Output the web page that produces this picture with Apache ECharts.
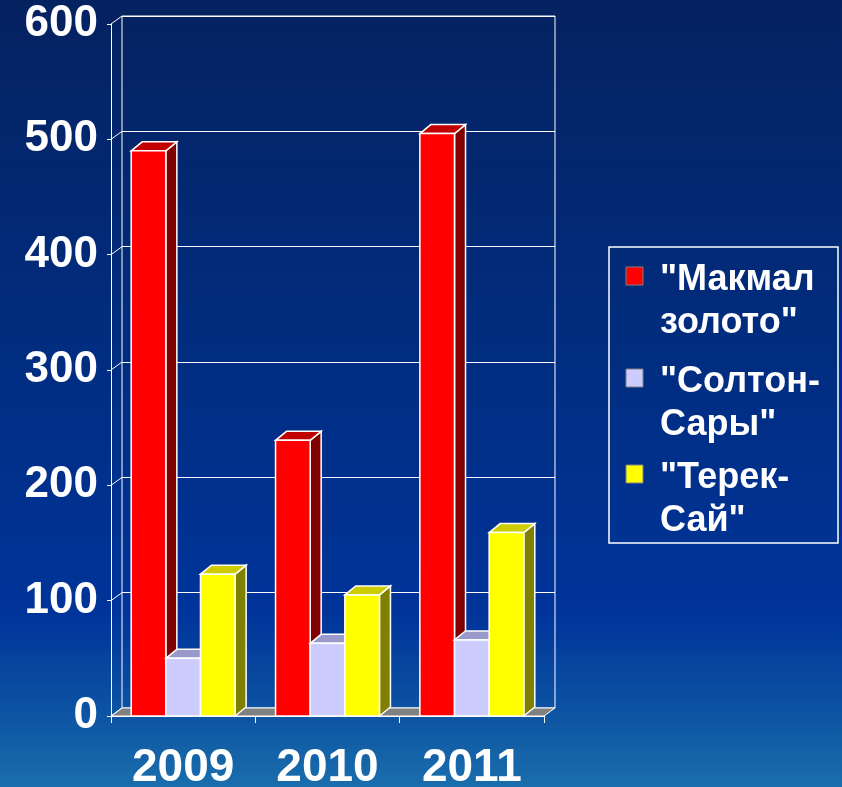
<!DOCTYPE html>
<html>
<head>
<meta charset="utf-8">
<script src="https://cdn.jsdelivr.net/npm/echarts@6/dist/echarts.min.js"></script>
<style>
  * { margin: 0; padding: 0; }
  #main { width: 842px; height: 787px; }
</style>
</head>
<body>
<div id="main"></div>
<script>
// данные
var years = ['2009', '2010', '2011'];
var makmal = [490, 239, 505];
var solton = [50, 63, 66];
var terek = [123, 105, 159];
var seriesNames = ['"Макмал\nзолото"', '"Солтон-\nСары"', '"Терек-\nСай"'];
var yTicks = [0, 100, 200, 300, 400, 500, 600];

// цвета граней: перед, верх, бок
var faces = [
  ['#ff0000', '#c00000', '#800000'],
  ['#ccccff', '#9999cc', '#9999cc'],
  ['#ffff00', '#cccc00', '#808000']
];
var DX = 11, DY = -9;

function bar3d(params, api) {
  var band = api.size([1, 0])[0];
  var w = band * 0.24;
  var base = api.coord([api.value(0), 0]);
  var top = api.coord([api.value(0), api.value(1)]);
  var x0 = base[0] + (params.seriesIndex - 1) * w - w / 2;
  var x1 = x0 + w, y0 = top[1], y1 = base[1];
  var c = faces[params.seriesIndex];
  var line = { stroke: '#ffffff', lineWidth: 1.5 };
  return {
    type: 'group',
    children: [
      { type: 'polygon', shape: { points: [[x1, y0], [x1 + DX, y0 + DY], [x1 + DX, y1 + DY], [x1, y1]] },
        style: Object.assign({ fill: c[2] }, line) },
      { type: 'polygon', shape: { points: [[x0, y0], [x0 + DX, y0 + DY], [x1 + DX, y0 + DY], [x1, y0]] },
        style: Object.assign({ fill: c[1] }, line) },
      { type: 'rect', shape: { x: x0, y: y0, width: w, height: y1 - y0 },
        style: Object.assign({ fill: c[0] }, line) }
    ]
  };
}

// пол и косые засечки от передней оси к задней стенке
function floorAndTicks(params, api) {
  var cs = params.coordSys;
  var kids = [];
  var y0 = api.coord([0, 0])[1];
  kids.push({ type: 'polygon',
    shape: { points: [[cs.x, y0], [cs.x + DX, y0 + DY + 1], [cs.x + cs.width + DX, y0 + DY + 1], [cs.x + cs.width, y0]] },
    style: { fill: '#808080', stroke: '#ffffff', lineWidth: 1 } });
  yTicks.forEach(function (v) {
    var y = api.coord([0, v])[1];
    kids.push({ type: 'line', shape: { x1: cs.x, y1: y, x2: cs.x + DX, y2: y + DY + 1 },
      style: { stroke: '#ffffff', lineWidth: 1 } });
  });
  return { type: 'group', children: kids };
}

var chart = echarts.init(document.getElementById('main'));
var labelFont = { color: '#ffffff', fontSize: 44, fontWeight: 'bold', fontFamily: 'Liberation Sans, Arial, sans-serif' };

var legendKids = [
  { type: 'rect', shape: { x: 609, y: 247, width: 229, height: 296 },
    style: { fill: 'transparent', stroke: '#ffffff', lineWidth: 1.5 } }
];
var itemTops = [267, 369, 465];
seriesNames.forEach(function (name, i) {
  legendKids.push({ type: 'rect', shape: { x: 626, y: itemTops[i], width: 17, height: 18 },
    style: { fill: faces[i][0], stroke: '#808080', lineWidth: 1 } });
  legendKids.push({ type: 'text', x: 660, y: itemTops[i] - 8,
    style: { text: name, fill: '#ffffff', font: 'bold 36px "Liberation Sans", Arial, sans-serif',
      lineHeight: 43, verticalAlign: 'top' } });
});

chart.setOption({
  backgroundColor: {
    type: 'linear', x: 0, y: 0, x2: 0, y2: 1,
    colorStops: [
      { offset: 0, color: '#052260' },
      { offset: 0.45, color: '#012d80' },
      { offset: 0.78, color: '#00349a' },
      { offset: 0.9, color: '#0c52a2' },
      { offset: 1, color: '#1a6eac' }
    ]
  },
  animation: false,
  grid: [
    { left: 122, top: 16, width: 433, height: 692, outerBoundsMode: 'none', containLabel: false,
      show: true, borderColor: '#ffffff', borderWidth: 1, backgroundColor: 'transparent' },
    { left: 111, top: 24, width: 433, height: 692, outerBoundsMode: 'none', containLabel: false }
  ],
  xAxis: [
    { gridIndex: 0, type: 'category', data: years, show: false },
    { gridIndex: 1, type: 'category', data: years,
      axisLine: { lineStyle: { color: '#ffffff', width: 1 } },
      axisTick: { show: true, length: 7, lineStyle: { color: '#ffffff' } },
      axisLabel: Object.assign({}, labelFont, { margin: 29, fontSize: 46 }) }
  ],
  yAxis: [
    { gridIndex: 0, type: 'value', min: 0, max: 600, interval: 100,
      axisLine: { show: false }, axisTick: { show: false }, axisLabel: { show: false },
      splitLine: { lineStyle: { color: '#ffffff', width: 1 } } },
    { gridIndex: 1, type: 'value', min: 0, max: 600, interval: 100,
      axisLine: { show: true, lineStyle: { color: '#ffffff', width: 1 } },
      axisTick: { show: true, length: 4, lineStyle: { color: '#ffffff' } },
      splitLine: { show: false },
      axisLabel: Object.assign({ margin: 13 }, labelFont) }
  ],
  graphic: [{ type: 'group', children: legendKids }],
  series: [
    { type: 'custom', xAxisIndex: 1, yAxisIndex: 1, renderItem: floorAndTicks, data: [[0, 0]], silent: true, z: 1 },
    { name: seriesNames[0], type: 'custom', xAxisIndex: 1, yAxisIndex: 1, renderItem: function (p, a) { p.seriesIndex = 0; return bar3d(p, a); },
      data: makmal.map(function (v, i) { return [i, v]; }), z: 2 },
    { name: seriesNames[1], type: 'custom', xAxisIndex: 1, yAxisIndex: 1, renderItem: function (p, a) { p.seriesIndex = 1; return bar3d(p, a); },
      data: solton.map(function (v, i) { return [i, v]; }), z: 2 },
    { name: seriesNames[2], type: 'custom', xAxisIndex: 1, yAxisIndex: 1, renderItem: function (p, a) { p.seriesIndex = 2; return bar3d(p, a); },
      data: terek.map(function (v, i) { return [i, v]; }), z: 2 }
  ]
});
</script>
</body>
</html>
